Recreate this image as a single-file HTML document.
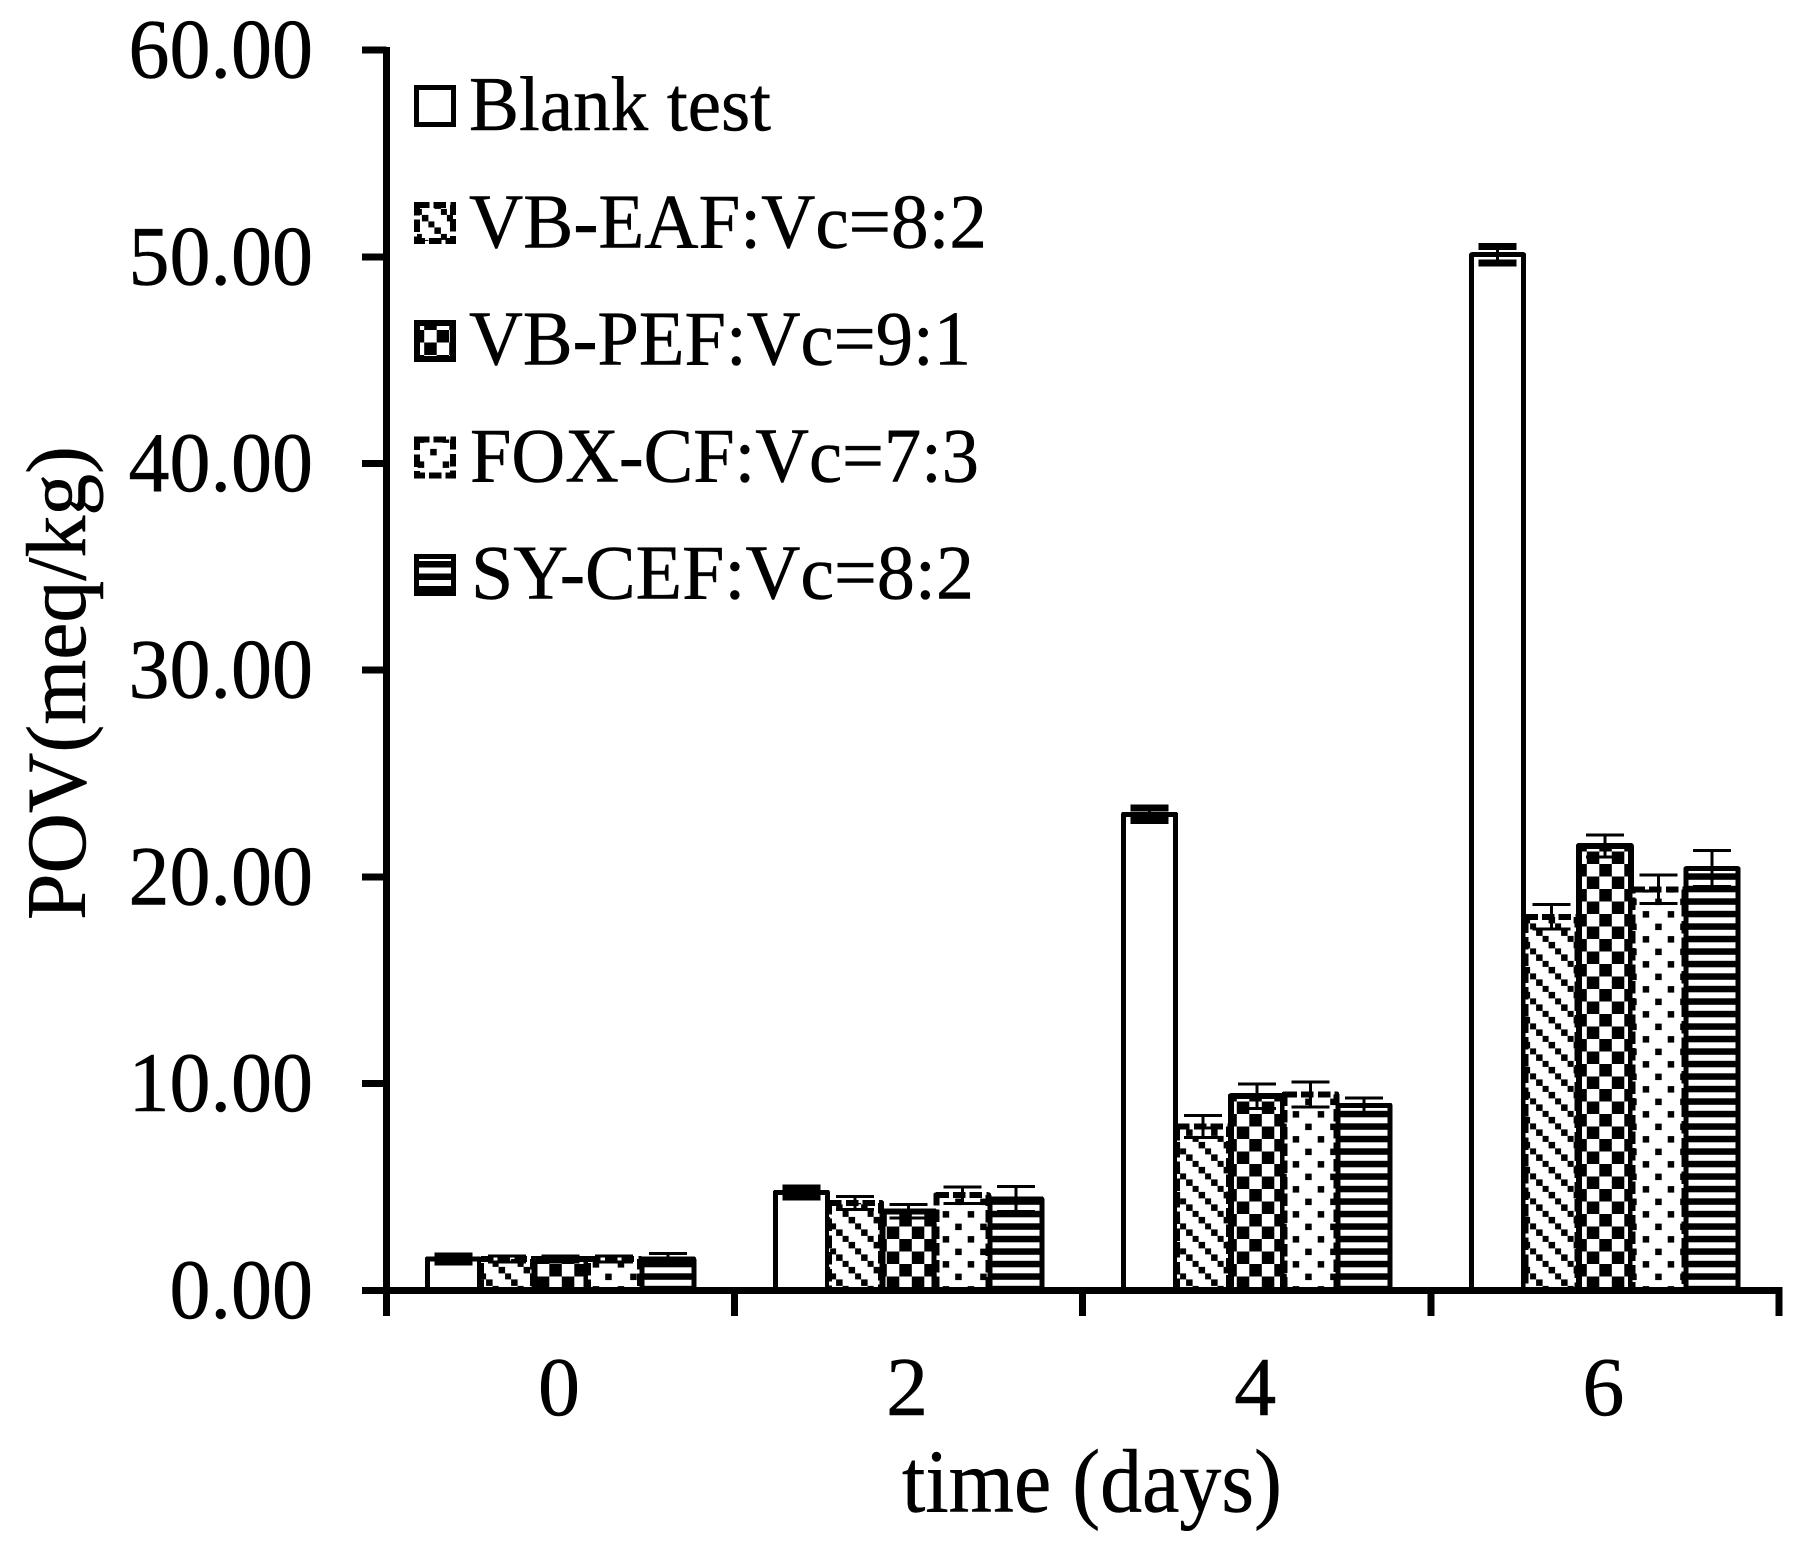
<!DOCTYPE html>
<html lang="en">
<head>
<meta charset="utf-8">
<title>POV over time</title>
<style>
html,body{margin:0;padding:0;background:#fff;width:1798px;height:1547px;overflow:hidden}
svg{display:block}
text{font-family:"Liberation Serif",serif;fill:#000;stroke:#000;stroke-width:0.5px}
rect,line{shape-rendering:crispEdges}
</style>
</head>
<body>
<svg id="chart" xmlns="http://www.w3.org/2000/svg" width="1798" height="1547" viewBox="0 0 1798 1547">
<defs>
<pattern id="p-hatch" patternUnits="userSpaceOnUse" x="498.6" y="1266.9" width="25" height="25"><rect width="25" height="25" fill="#fff"/><rect x="0" y="0" width="6.25" height="6.25"/><rect x="6.25" y="6.25" width="6.25" height="6.25"/><rect x="12.5" y="12.5" width="6.25" height="6.25"/><rect x="18.75" y="18.75" width="6.25" height="6.25"/></pattern>
<pattern id="p-check" patternUnits="userSpaceOnUse" x="549.3" y="1264" width="25" height="25"><rect width="25" height="25" fill="#fff"/><rect x="0" y="0" width="12.5" height="12.5"/><rect x="12.5" y="12.5" width="12.5" height="12.5"/></pattern>
<pattern id="p-dots" patternUnits="userSpaceOnUse" x="605.2" y="1273.6" width="25" height="25"><rect width="25" height="25" fill="#fff"/><rect x="0" y="0" width="6.25" height="6.25"/><rect x="12.5" y="12.5" width="6.25" height="6.25"/></pattern>
<pattern id="p-stripes" patternUnits="userSpaceOnUse" x="0" y="1273.3" width="25" height="12.5"><rect width="25" height="12.5" fill="#fff"/><rect x="0" y="0" width="25" height="6.25"/></pattern>
<pattern id="l-hatch" patternUnits="userSpaceOnUse" x="421.9" y="214.9" width="25" height="25"><rect width="25" height="25" fill="#fff"/><rect x="0" y="0" width="6.25" height="6.25"/><rect x="6.25" y="6.25" width="6.25" height="6.25"/><rect x="12.5" y="12.5" width="6.25" height="6.25"/><rect x="18.75" y="18.75" width="6.25" height="6.25"/></pattern>
<pattern id="l-check" patternUnits="userSpaceOnUse" x="436.7" y="330" width="25" height="25"><rect width="25" height="25" fill="#fff"/><rect x="0" y="0" width="12.5" height="12.5"/><rect x="12.5" y="12.5" width="12.5" height="12.5"/></pattern>
<pattern id="l-dots" patternUnits="userSpaceOnUse" x="430.2" y="448.9" width="25" height="25"><rect width="25" height="25" fill="#fff"/><rect x="0" y="0" width="6.25" height="6.25"/><rect x="12.5" y="12.5" width="6.25" height="6.25"/></pattern>
<pattern id="l-stripes" patternUnits="userSpaceOnUse" x="0" y="561" width="25" height="12.5"><rect width="25" height="12.5" fill="#fff"/><rect x="0" y="0" width="25" height="6.25"/></pattern>
</defs>

<g id="plot"></g>
<g id="axes"></g>

<text transform="translate(85 920) rotate(-90)" font-size="85" textLength="474" lengthAdjust="spacingAndGlyphs">POV(meq/kg)</text>
<text x="902" y="1511.5" font-size="90" textLength="380" lengthAdjust="spacingAndGlyphs">time (days)</text>

<g>
  <g>
    <rect x="416.5" y="87.5" width="37" height="37" fill="#fff" stroke="#000" stroke-width="5"/>
    <text x="469" y="130" font-size="77" textLength="302" lengthAdjust="spacingAndGlyphs">Blank test</text>
  </g>
  <g>
    <rect x="417" y="205" width="36" height="36" fill="url(#l-hatch)" stroke="#000" stroke-width="6" stroke-dasharray="12.5 4.2"/>
    <text x="469" y="247.5" font-size="77" textLength="518" lengthAdjust="spacingAndGlyphs">VB-EAF:Vc=8:2</text>
  </g>
  <g>
    <rect x="417" y="323" width="36" height="36" fill="url(#l-check)" stroke="#000" stroke-width="6"/>
    <text x="469" y="364.5" font-size="77" textLength="502" lengthAdjust="spacingAndGlyphs">VB-PEF:Vc=9:1</text>
  </g>
  <g>
    <rect x="417" y="439.7" width="36" height="36" fill="url(#l-dots)" stroke="#000" stroke-width="6" stroke-dasharray="12.5 4.2"/>
    <text x="470" y="481.5" font-size="77" textLength="509" lengthAdjust="spacingAndGlyphs">FOX-CF:Vc=7:3</text>
  </g>
  <g>
    <rect x="416.5" y="556.5" width="37" height="37" fill="url(#l-stripes)" stroke="#000" stroke-width="5"/>
    <text x="471" y="598.5" font-size="77" textLength="503" lengthAdjust="spacingAndGlyphs">SY-CEF:Vc=8:2</text>
  </g>
</g>
</svg>

<script>
var categories = ['0', '2', '4', '6'];
var yTickValues = [0, 10, 20, 30, 40, 50, 60];

var blankValues = [1.52, 4.74, 23.03, 50.1];
var eafValues   = [1.52, 4.23, 7.93, 18.07];
var pefValues   = [1.52, 3.82, 9.39, 21.5];
var foxValues   = [1.52, 4.6, 9.48, 19.4];
var syValues    = [1.52, 4.42, 8.95, 20.4];

var blankErrors = [0.15, 0.22, 0.3, 0.39];
var eafErrors   = [0.15, 0.31, 0.53, 0.6];
var pefErrors   = [0.15, 0.32, 0.6, 0.53];
var foxErrors   = [0.15, 0.4, 0.6, 0.69];
var syErrors    = [0.27, 0.6, 0.35, 0.87];

var seriesNames = ['blank-test', 'vb-eaf', 'vb-pef', 'fox-cf', 'sy-cef'];
var seriesValues = [blankValues, eafValues, pefValues, foxValues, syValues];
var seriesErrors = [blankErrors, eafErrors, pefErrors, foxErrors, syErrors];

var SVGNS = 'http://www.w3.org/2000/svg';
var plot = document.getElementById('plot');
var axes = document.getElementById('axes');

var axisLeft = 386.5, catWidth = 348.1, zeroY = 1290.3, pxPerUnit = 20.67;
var barPitch = 53.6, barWidth = 52;

function yScale(v) { return zeroY - v * pxPerUnit; }
function catStart(i) { return axisLeft + i * catWidth; }
function barCenter(i, s) { return catStart(i) + catWidth / 2 + (s - 2) * barPitch; }

function make(tag, attrs, parent) {
  var el = document.createElementNS(SVGNS, tag);
  for (var k in attrs) { el.setAttribute(k, attrs[k]); }
  parent.appendChild(el);
  return el;
}

var fills = ['#fff', 'url(#p-hatch)', 'url(#p-check)', 'url(#p-dots)', 'url(#p-stripes)'];
var strokeWidths = [5, 6, 6, 6, 5];
var dashes = ['none', '12.5 4.2', 'none', '12.5 4.2', 'none'];
var capThick = [7, 3, 3, 3, 3];

seriesValues.forEach(function (vals, s) {
  vals.forEach(function (v, i) {
    var cx = barCenter(i, s);
    var top = yScale(v);
    var bar = make('rect', {
      x: cx - barWidth / 2, y: top, width: barWidth, height: zeroY - top,
      fill: fills[s], stroke: '#000', 'stroke-width': strokeWidths[s],
      'stroke-dasharray': dashes[s], 'stroke-linejoin': 'round'
    }, plot);
    
    
    bar.setAttribute('data-series', seriesNames[s]);
    bar.setAttribute('data-category', categories[i]);
  });
  vals.forEach(function (v, i) {
    var cx = barCenter(i, s);
    var e = seriesErrors[s][i];
    var hi = yScale(v + e), lo = yScale(v - e);
    var g = make('g', { stroke: '#000' }, plot);
    
    
    make('line', { x1: cx, x2: cx, y1: hi, y2: lo, 'stroke-width': 3 }, g);
    make('line', { x1: cx - 19, x2: cx + 19, y1: hi, y2: hi, 'stroke-width': capThick[s] }, g);
    make('line', { x1: cx - 19, x2: cx + 19, y1: lo, y2: lo, 'stroke-width': capThick[s] }, g);
  });
});

var yAxisLine = make('line', { x1: axisLeft, x2: axisLeft, y1: yScale(60) - 3, y2: zeroY, stroke: '#000', 'stroke-width': 7 }, axes);



var xAxisLine = make('line', { x1: 362, x2: catStart(categories.length) + 3.5, y1: zeroY, y2: zeroY, stroke: '#000', 'stroke-width': 7 }, axes);



yTickValues.forEach(function (t) {
  var y = yScale(t);
  var tick = make('line', { x1: 362, x2: axisLeft, y1: y, y2: y, stroke: '#000', 'stroke-width': 7 }, axes);
  
  
  var str = t.toFixed(2);
  var w = (str.length - 1) * 41 + 20.5;
  var label = make('text', { x: 313, y: y + 27.5, 'font-size': 85, 'text-anchor': 'end', textLength: w, lengthAdjust: 'spacingAndGlyphs' }, axes);
  label.textContent = str;
  
  
});

for (var n = 0; n <= categories.length; n++) {
  var xt = make('line', { x1: catStart(n), x2: catStart(n), y1: zeroY, y2: 1316, stroke: '#000', 'stroke-width': 7 }, axes);
  
  
}

categories.forEach(function (c, i) {
  var lab = make('text', { x: catStart(i) + catWidth / 2 - 1.5, y: 1415, 'font-size': 84, 'text-anchor': 'middle' }, axes);
  lab.textContent = c;
  
  
});
</script>
</body>
</html>
